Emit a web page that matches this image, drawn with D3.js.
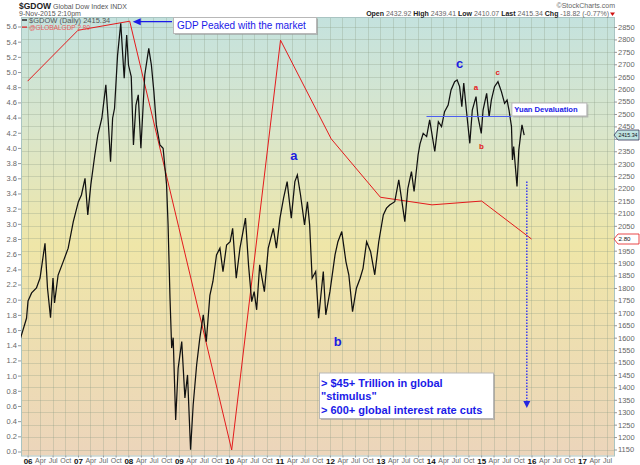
<!DOCTYPE html>
<html>
<head>
<meta charset="utf-8">
<script src="https://cdn.jsdelivr.net/npm/d3@7"></script>
<style>
  body { margin: 0; background: #fff; }
  svg { display: block; font-family: "Liberation Sans", Arial, sans-serif; }
</style>
</head>
<body>
<svg id="chart" width="640" height="465"></svg>
<script>
// $GDOW (roughly every two to four weeks)
const gdowDates = [
  "2005-11-07", "2005-12-24", "2006-01-04", "2006-01-30", "2006-03-06", "2006-04-01", "2006-05-07", "2006-05-25",
  "2006-06-16", "2006-07-04", "2006-07-15", "2006-08-10", "2006-09-16", "2006-10-22", "2006-11-28", "2007-01-04",
  "2007-01-26", "2007-02-21", "2007-03-13", "2007-04-04", "2007-05-03", "2007-05-25", "2007-06-23", "2007-07-22",
  "2007-08-07", "2007-08-25", "2007-09-09", "2007-09-23", "2007-10-15", "2007-11-07", "2007-12-02", "2007-12-20",
  "2008-01-02", "2008-01-22", "2008-02-07", "2008-02-25", "2008-03-13", "2008-04-01", "2008-04-29", "2008-05-28",
  "2008-06-16", "2008-07-04", "2008-07-22", "2008-08-17", "2008-09-09", "2008-10-04", "2008-10-15", "2008-10-29",
  "2008-11-10", "2008-11-21", "2008-12-09", "2008-12-27", "2009-01-22", "2009-02-14", "2009-03-05", "2009-03-27",
  "2009-04-15", "2009-05-10", "2009-06-02", "2009-06-27", "2009-07-19", "2009-08-14", "2009-09-05", "2009-10-01",
  "2009-10-26", "2009-11-17", "2009-12-13", "2010-01-08", "2010-01-26", "2010-02-21", "2010-03-20", "2010-04-29",
  "2010-05-21", "2010-06-13", "2010-07-01", "2010-07-19", "2010-08-10", "2010-09-13", "2010-10-11", "2010-11-17",
  "2010-12-09", "2011-01-04", "2011-01-30", "2011-02-25", "2011-03-27", "2011-04-22", "2011-05-10", "2011-06-02",
  "2011-07-01", "2011-07-22", "2011-08-07", "2011-08-25", "2011-09-20", "2011-10-11", "2011-11-14", "2011-12-02",
  "2012-01-01", "2012-02-07", "2012-02-28", "2012-03-27", "2012-04-26", "2012-05-17", "2012-06-13", "2012-07-11",
  "2012-08-07", "2012-08-28", "2012-09-23", "2012-10-22", "2012-11-21", "2012-12-20", "2013-01-22", "2013-02-14",
  "2013-03-09", "2013-04-15", "2013-05-14", "2013-06-27", "2013-07-19", "2013-08-14", "2013-09-02", "2013-10-01",
  "2013-10-15", "2013-11-07", "2013-12-02", "2013-12-24", "2014-01-30", "2014-02-25", "2014-03-20", "2014-04-11",
  "2014-05-07", "2014-05-28", "2014-06-23", "2014-07-11", "2014-07-29", "2014-08-14", "2014-08-28", "2014-09-16",
  "2014-10-11", "2014-10-29", "2014-11-25", "2014-12-09", "2015-01-02", "2015-01-15", "2015-02-10", "2015-02-28",
  "2015-03-16", "2015-04-08", "2015-05-03", "2015-05-28", "2015-06-20", "2015-07-08", "2015-07-22", "2015-08-09",
  "2015-08-16", "2015-08-25", "2015-09-04", "2015-09-18", "2015-10-01", "2015-10-13", "2015-10-24", "2015-11-09"
];
const gdowValues = [
  1591, 1678, 1748, 1780, 1800, 1840, 1980, 1800,
  1680, 1840, 1740, 1852, 1906, 1960, 2067, 2147,
  2174, 2241, 2094, 2215, 2335, 2416, 2483, 2617,
  2483, 2308, 2483, 2523, 2737, 2865, 2644, 2818,
  2697, 2650, 2375, 2536, 2577, 2362, 2657, 2764,
  2697, 2590, 2456, 2375, 2362, 2215, 2054, 1759,
  1558, 1600, 1269, 1477, 1584, 1357, 1450, 1149,
  1330, 1490, 1598, 1692, 1584, 1770, 1826, 1933,
  1960, 1866, 1973, 1986, 2040, 1839, 1960, 2081,
  1893, 1745, 1785, 1712, 1893, 1785, 1960, 2040,
  1960, 2081, 2161, 2228, 2081, 2228, 2255, 2174,
  2054, 2147, 2054, 1839, 1866, 1678, 1866, 1692,
  1785, 1933, 1986, 2027, 1906, 1853, 1705, 1799,
  1839, 1879, 1986, 1946, 1853, 1986, 2094, 2121,
  2134, 2147, 2235, 2067, 2201, 2268, 2188, 2335,
  2380, 2422, 2409, 2476, 2349, 2469, 2449, 2509,
  2536, 2597, 2630, 2637, 2610, 2529, 2624, 2516,
  2382, 2516, 2570, 2489, 2422, 2516, 2583, 2489,
  2556, 2610, 2630, 2590, 2543, 2556, 2516, 2449,
  2315, 2369, 2302, 2208, 2355, 2409, 2456, 2415.34
];

// @GLOBALGDP overlay (left axis)
const gdpDates = ["2006-01-01", "2007-01-01", "2008-01-11", "2009-01-01", "2010-01-19", "2011-01-08",
                  "2012-01-10", "2013-01-01", "2014-01-10", "2015-01-05", "2016-01-01"];
const gdpValues = [4.88, 5.55, 5.67, 2.95, 0.02, 5.42, 4.12, 3.35, 3.25, 3.30, 2.80];

const rightTicks = d3.range(1150, 2851, 50);
const leftTicks = d3.range(0, 5.61, 0.2);

const quote = [["Open", "2432.92"], ["High", "2439.41"], ["Low", "2410.07"], ["Last", "2415.34"], ["Chg", "-18.82 (-0.77%)"]];

// annotations: [date, value, text]
const waveBlue = [["2011-04-14", 2331, "a"], ["2012-02-27", 1583, "b"], ["2014-07-29", 2705, "c"]];
const waveRed = [["2014-11-24", 2605, "a"], ["2015-01-04", 2369, "b"], ["2015-05-01", 2666, "c"]];
const yuanLine = [["2013-12-01", 2490], ["2015-08-08", 2490]];
const dropArrow = [["2015-11-28", 2228], ["2015-11-28", 1345]];
const stimulusLines = ["> $45+ Trillion in global", "\"stimulus\"", "> 600+ global interest rate cuts"];

const parse = d3.timeParse("%Y-%m-%d");
const gdow = gdowDates.map((d, i) => ({ date: parse(d), value: gdowValues[i] }));
const gdp = gdpDates.map((d, i) => ({ date: parse(d), value: gdpValues[i] }));

const pLeft = 21, pRight = 614, pTop = 17, pBottom = 455.5;

const x = d3.scaleTime().domain([parse("2005-11-14"), parse("2017-08-21")]).range([pLeft, pRight]);
const yR = d3.scaleLinear().domain([1150, 2850]).range([449.5, 27]);
const yL = d3.scaleLinear().domain([0, 5.6]).range([451.5, 26.5]);

const svg = d3.select("#chart");
const defs = svg.append("defs");

const grad = defs.append("linearGradient").attr("id", "bg").attr("x1", 0).attr("x2", 0).attr("y1", 0).attr("y2", 1);
grad.append("stop").attr("offset", "0%").attr("stop-color", "#c4e2de");
grad.append("stop").attr("offset", "25%").attr("stop-color", "#d9e6cc");
grad.append("stop").attr("offset", "52%").attr("stop-color", "#efe6a8");
grad.append("stop").attr("offset", "100%").attr("stop-color", "#ecd5bb");

defs.append("clipPath").attr("id", "clip")
  .append("rect").attr("x", pLeft).attr("y", pTop).attr("width", pRight - pLeft).attr("height", pBottom - pTop);

svg.append("rect")
  .attr("x", pLeft).attr("y", pTop).attr("width", pRight - pLeft).attr("height", pBottom - pTop)
  .attr("fill", "url(#bg)");

// grid
const months = d3.timeMonth.every(3).range(parse("2006-01-01"), parse("2017-08-01"));
svg.append("g").selectAll("line").data(rightTicks).join("line")
  .attr("x1", pLeft).attr("x2", pRight)
  .attr("y1", (d) => Math.round(yR(d)) + 0.5).attr("y2", (d) => Math.round(yR(d)) + 0.5)
  .attr("stroke", "#8c9a86").attr("stroke-opacity", 0.3);
svg.append("g").selectAll("line").data(months).join("line")
  .attr("x1", (d) => Math.round(x(d)) + 0.5).attr("x2", (d) => Math.round(x(d)) + 0.5)
  .attr("y1", pTop).attr("y2", pBottom)
  .attr("stroke", "#8c9a86").attr("stroke-opacity", 0.3);

svg.append("rect")
  .attr("x", pLeft + 0.5).attr("y", pTop + 0.5).attr("width", pRight - pLeft).attr("height", pBottom - pTop)
  .attr("fill", "none").attr("stroke", "#a9c4c2");

// axes
const rightAxis = svg.append("g").attr("transform", `translate(${pRight},0)`)
  .call(d3.axisRight(yR).tickValues(rightTicks).tickSize(3).tickPadding(1).tickFormat(d3.format("d")));
const leftAxis = svg.append("g").attr("transform", `translate(${pLeft},0)`)
  .call(d3.axisLeft(yL).tickValues(leftTicks).tickSize(3).tickPadding(1).tickFormat(d3.format(".1f")));
const bottomAxis = svg.append("g").attr("transform", `translate(0,${pBottom})`)
  .call(d3.axisBottom(x).tickValues(months).tickSize(2).tickPadding(1)
    .tickFormat((d) => (d.getMonth() === 0 ? d3.timeFormat("%y")(d) : d3.timeFormat("%b")(d))));

[rightAxis, leftAxis, bottomAxis].forEach((g) => {
  g.select(".domain").remove();
  g.selectAll(".tick line").attr("stroke", "#999");
  g.selectAll("text").attr("fill", "#666").attr("font-size", 7.5);
});
bottomAxis.selectAll("text").attr("font-size", 7)
  .filter((d) => d.getMonth() === 0)
  .attr("fill", "#111").attr("font-weight", "bold").attr("font-size", 8);

// series
const plot = svg.append("g").attr("clip-path", "url(#clip)");

plot.append("path")
  .datum(gdp)
  .attr("d", d3.line().x((d) => x(d.date)).y((d) => yL(d.value)))
  .attr("fill", "none").attr("stroke", "#e31a1c").attr("stroke-width", 1);

plot.append("path")
  .datum(gdow)
  .attr("d", d3.line().x((d) => x(d.date)).y((d) => yR(d.value)))
  .attr("fill", "none").attr("stroke", "#111").attr("stroke-width", 1.25);

// yuan line
plot.append("line")
  .attr("x1", x(parse(yuanLine[0][0]))).attr("x2", x(parse(yuanLine[1][0])))
  .attr("y1", yR(yuanLine[0][1])).attr("y2", yR(yuanLine[1][1]))
  .attr("stroke", "#4a5cf0").attr("stroke-width", 1);

// dotted drop arrow
const ax = x(parse(dropArrow[0][0]));
const ay1 = yR(dropArrow[0][1]), ay2 = yR(dropArrow[1][1]);
plot.append("line")
  .attr("x1", ax).attr("x2", ax).attr("y1", ay1).attr("y2", ay2)
  .attr("stroke", "#3b3bef").attr("stroke-width", 1.5).attr("stroke-dasharray", "1.5,1.5");
plot.append("path")
  .attr("d", `M${ax - 3.5},${ay2} L${ax + 3.5},${ay2} L${ax},${ay2 + 7}Z`)
  .attr("fill", "#2424e0");

// wave labels
svg.append("g").selectAll("text").data(waveBlue).join("text")
  .attr("x", (d) => x(parse(d[0]))).attr("y", (d) => yR(d[1]))
  .attr("text-anchor", "middle").attr("dominant-baseline", "central")
  .attr("fill", "#1c1ce0").attr("font-size", 13).attr("font-weight", "bold")
  .text((d) => d[2]);
svg.append("g").selectAll("text").data(waveRed).join("text")
  .attr("x", (d) => x(parse(d[0]))).attr("y", (d) => yR(d[1]))
  .attr("text-anchor", "middle").attr("dominant-baseline", "central")
  .attr("fill", "#e41a1c").attr("font-size", 8).attr("font-weight", "bold")
  .text((d) => d[2]);

// boxes with shadow
function noteBox(x0, y0, w, h) {
  svg.append("rect").attr("x", x0 + 2).attr("y", y0 + 2).attr("width", w).attr("height", h).attr("fill", "#9a9a9a").attr("opacity", 0.6);
  svg.append("rect").attr("x", x0 + 0.5).attr("y", y0 + 0.5).attr("width", w).attr("height", h)
    .attr("fill", "#fff").attr("stroke", "#b8b8b8");
}

// GDP peak note + arrow
const peak = gdp[2];
noteBox(173, 17, 143, 16);
svg.append("text").attr("x", 177).attr("y", 29).attr("fill", "#1a1ae8").attr("font-size", 10)
  .text("GDP Peaked with the market");
const py = yL(peak.value) + 0.5, px = x(peak.date) + 3;
svg.append("line").attr("x1", 172).attr("x2", px + 6).attr("y1", py).attr("y2", py)
  .attr("stroke", "#1a1ae8").attr("stroke-width", 1.2);
svg.append("path").attr("d", `M${px},${py} L${px + 8},${py - 3.5} L${px + 8},${py + 3.5}Z`).attr("fill", "#1a1ae8");

// yuan box
noteBox(x(parse(yuanLine[1][0])), yR(yuanLine[1][1]) - 14, 75, 13);
svg.append("text").attr("x", x(parse(yuanLine[1][0])) + 3).attr("y", yR(yuanLine[1][1]) - 4)
  .attr("fill", "#1a1ae8").attr("font-size", 7.6).attr("font-weight", "bold")
  .text("Yuan Devaluation");

// stimulus box
noteBox(319, 372.5, 174, 45.5);
svg.append("g").selectAll("text").data(stimulusLines).join("text")
  .attr("x", 321).attr("y", (d, i) => 386.5 + i * 13.5)
  .attr("fill", "#1a1ae8").attr("font-size", 11).attr("font-weight", "bold")
  .text((d) => d);

// right-axis value tags (drawn over the tick label they replace)
function tag(yv, label, fill, stroke) {
  const g = svg.append("g").attr("transform", `translate(${pRight},${yv})`);
  g.append("path").attr("d", "M0,0 L4,-5 L25,-5 L25,5 L4,5Z").attr("fill", fill).attr("stroke", stroke).attr("stroke-width", 0.8);
  g.append("text").attr("x", 4.5).attr("y", 2.2).attr("font-size", 5.8).attr("fill", "#111")
    .attr("textLength", label.length > 4 ? 19 : 12).attr("lengthAdjust", "spacingAndGlyphs").text(label);
}
rightAxis.selectAll(".tick").filter((d) => Math.abs(yR(d) - yR(2415.34)) < 6 || Math.abs(yR(d) - yL(2.8)) < 6)
  .select("text").remove();
tag(yR(gdowValues[gdowValues.length - 1]), "2415.34", "#bfe3e1", "#335");
tag(yL(gdpValues[gdpValues.length - 1]), "2.80", "#fff", "#e31a1c");

// header
svg.append("text").attr("x", 19).attr("y", 9).attr("font-size", 8.5).attr("font-weight", "bold").attr("fill", "#222")
  .text("$GDOW").append("tspan").attr("font-weight", "normal").attr("font-size", 7).attr("fill", "#555")
  .text(" Global Dow Index  INDX");
svg.append("text").attr("x", 19).attr("y", 16).attr("font-size", 7).attr("fill", "#555").text("9-Nov-2015 2:10pm");
svg.append("text").attr("x", 615).attr("y", 8).attr("font-size", 7).attr("fill", "#666").attr("text-anchor", "end")
  .text("©StockCharts.com");
const q = svg.append("text").attr("x", 609).attr("y", 16).attr("font-size", 7).attr("text-anchor", "end");
quote.forEach(([k, v], i) => {
  q.append("tspan").attr("font-weight", "bold").attr("fill", "#222").text((i ? " " : "") + k + " ");
  q.append("tspan").attr("fill", "#666").text(v);
});
svg.append("path").attr("d", "M610,12.5 L615,12.5 L612.5,16Z").attr("fill", "#d01010");

// legend
const lg = svg.append("g").attr("font-size", 7.5);
lg.append("rect").attr("x", 22).attr("y", 19).attr("width", 5).attr("height", 2).attr("fill", "#555");
lg.append("text").attr("x", 29).attr("y", 23).attr("fill", "#555").text("$GDOW (Daily) 2415.34");
lg.append("rect").attr("x", 22).attr("y", 26.5).attr("width", 5).attr("height", 1.2).attr("fill", "#e31a1c");
lg.append("text").attr("x", 29).attr("y", 30).attr("fill", "#e85a5a").attr("font-size", 6.5).text("@GLOBALGDP 2.80");
</script>
</body>
</html>
